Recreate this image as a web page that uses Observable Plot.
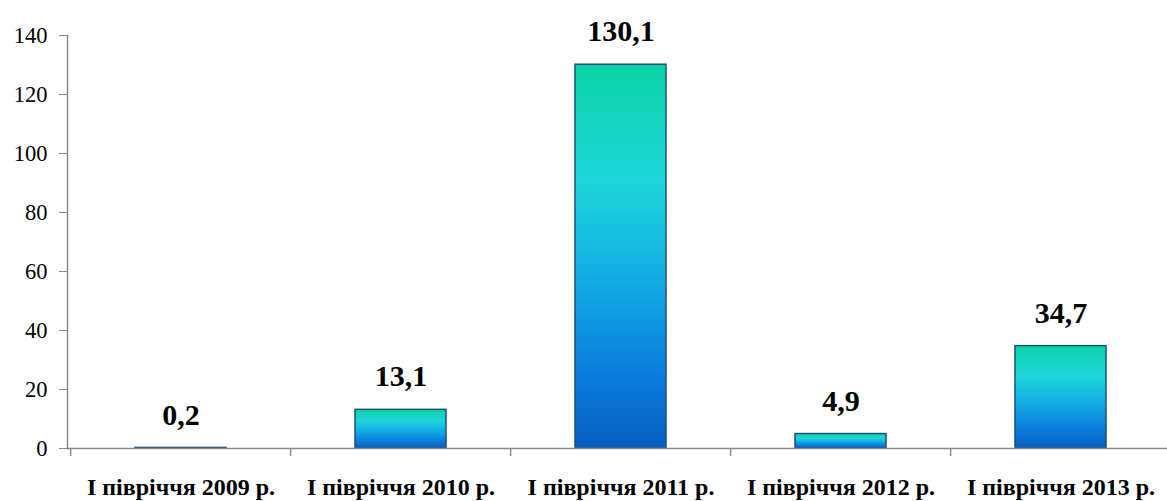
<!DOCTYPE html>
<html>
<head>
<meta charset="utf-8">
<script src="https://cdn.jsdelivr.net/npm/d3@7"></script>
<script src="https://cdn.jsdelivr.net/npm/@observablehq/plot@0.6"></script>
<style>
  html, body { margin: 0; padding: 0; background: #fff; }
  #chart { width: 1167px; height: 501px; overflow: hidden; }
  #chart svg, #chart svg text { font-family: "Liberation Serif", "Times New Roman", serif !important; }
</style>
</head>
<body>
<div id="chart"></div>
<script>
const categories = ["І півріччя 2009 р.", "І півріччя 2010 р.", "І півріччя 2011 р.", "І півріччя 2012 р.", "І півріччя 2013 р."];
const values = [0.2, 13.1, 130.1, 4.9, 34.7];
const valueLabels = ["0,2", "13,1", "130,1", "4,9", "34,7"];
const yTicks = [0, 20, 40, 60, 80, 100, 120, 140];

const data = categories.map((c, i) => ({cat: c, value: values[i], label: valueLabels[i]}));
const gray = "#8a8a8a";
const serif = "Liberation Serif, Times New Roman, serif";

const svg = Plot.plot({
  width: 1167,
  height: 501,
  marginLeft: 67,
  marginRight: 0,
  marginTop: 35,
  marginBottom: 53,
  style: {fontFamily: serif, fontSize: "22px", color: "#000", background: "#fff"},
  x: {domain: categories, range: [68, 1172], paddingInner: 0.587, paddingOuter: 0.2935},
  y: {domain: [0, 140]},
  marks: [
    Plot.barY(data, {x: "cat", y: "value", fill: "url(#barGrad)", stroke: "#1d4f7c", strokeWidth: 1.5}),
    Plot.frame({anchor: "left", stroke: gray, strokeWidth: 1.5}),
    Plot.ruleY([0], {stroke: gray, strokeWidth: 1.5}),
    Plot.ruleX(categories, {x: d => d, dx: -110.4, y1: 0, y2: -2.7, stroke: gray, strokeWidth: 1.5, clip: false}),
    Plot.axisY({ticks: yTicks, tickSize: 8, tickPadding: 12, stroke: gray, fill: "#000", fontSize: 22.5, fontFamily: serif, label: null, tickFormat: d => String(d)}),
    Plot.axisX({tickSize: 0, tickPadding: 29, fill: "#000", fontSize: 24, fontWeight: "bold", fontFamily: serif, label: null}),
    Plot.text(data, {x: "cat", y: "value", text: "label", dy: -33, lineAnchor: "middle", textAnchor: "middle", fontSize: 30, fontWeight: "bold", fontFamily: serif, fill: "#000"})
  ]
});

const ns = "http://www.w3.org/2000/svg";
const defs = document.createElementNS(ns, "defs");
const grad = document.createElementNS(ns, "linearGradient");
grad.setAttribute("id", "barGrad");
grad.setAttribute("x1", "0"); grad.setAttribute("y1", "0");
grad.setAttribute("x2", "0"); grad.setAttribute("y2", "1");
[["0%", "#0cd3a6"], ["30%", "#1dd6d9"], ["55%", "#13aee5"], ["80%", "#0a7fdd"], ["100%", "#055ec4"]].forEach(([o, c]) => {
  const s = document.createElementNS(ns, "stop");
  s.setAttribute("offset", o);
  s.setAttribute("stop-color", c);
  grad.appendChild(s);
});
defs.appendChild(grad);
svg.insertBefore(defs, svg.firstChild);
document.getElementById("chart").appendChild(svg);
</script>
</body>
</html>
